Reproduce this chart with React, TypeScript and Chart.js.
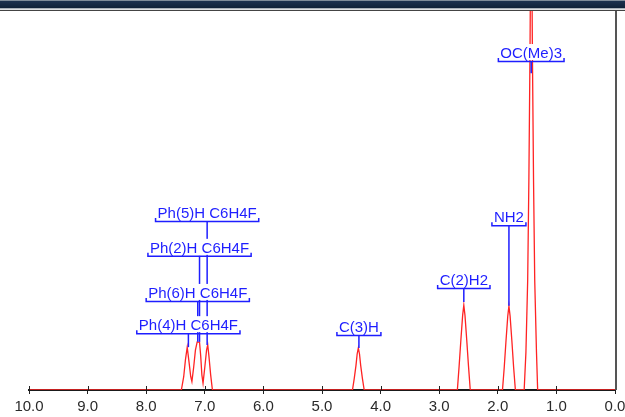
import React, { useEffect, useRef } from "react";
import { Chart, registerables } from "chart.js";

Chart.register(...registerables);

// Spectrum samples: chemical shift (ppm) and intensity (arbitrary units, axis 0..100)
const shiftPpm = [
  10.0,
  7.4, 7.36, 7.33, 7.3, 7.27, 7.24, 7.22, 7.19, 7.16, 7.13, 7.09, 7.07, 7.05, 7.03, 7.0, 6.97, 6.95, 6.93, 6.9, 6.87,
  4.48, 4.45, 4.42, 4.4, 4.38, 4.36, 4.34, 4.31, 4.28,
  2.69, 2.66, 2.63, 2.6, 2.58, 2.56, 2.53, 2.5, 2.47,
  1.92, 1.89, 1.86, 1.83, 1.81, 1.79, 1.76, 1.73, 1.7,
  1.55, 1.52, 1.49, 1.47, 1.45, 1.43, 1.41, 1.39, 1.37, 1.34, 1.32,
  0.0,
];
const intensity = [
  0,
  0, 3.5, 8, 11.3, 7.5, 3.5, 2.2, 6, 10.5, 12.7, 12.6, 9, 4, 1.8, 6, 10.5, 11.9, 9, 4, 0,
  0, 3, 6.5, 9.5, 11.1, 9.5, 6.5, 3, 0,
  0, 6.3, 13.2, 19.7, 22.4, 19.7, 13.2, 6.3, 0,
  0, 6, 13, 19.5, 22.2, 19.5, 13, 6, 0,
  0, 10, 29, 55, 90, 140, 90, 55, 29, 10, 0,
  0,
];

// Axis ticks
const tickValues = [10, 9, 8, 7, 6, 5, 4, 3, 2, 1, 0];

// Peak assignment labels
const labelTexts = [
  "OC(Me)3",
  "NH2",
  "C(2)H2",
  "C(3)H",
  "Ph(5)H C6H4F",
  "Ph(2)H C6H4F",
  "Ph(6)H C6H4F",
  "Ph(4)H C6H4F",
];
const labelPpm = [1.43, 1.81, 2.58, 4.37, 6.96, 7.09, 7.12, 7.28];
const bracketLevel = [86.8, 43.5, 26.9, 14.5, 44.6, 35.4, 23.5, 15.0];
const connectorEnd = [83.6, 22.2, 23.2, 11.1, 11.9, 12.7, 12.7, 11.3];

const BLUE = "#1e1eff";
const RED = "rgb(255,35,35)";
const LABEL_FONT = "15px 'Liberation Sans', Arial, sans-serif";

const decorPlugin = {
  id: "decor",
  afterDraw(chart: any) {
    const { ctx, chartArea, scales } = chart;
    const xs = scales.x;
    const ys = scales.y;
    ctx.save();

    // upper halves of the axis ticks
    ctx.strokeStyle = "#222";
    ctx.lineWidth = 1;
    for (const v of tickValues) {
      const px = Math.round(xs.getPixelForValue(v)) + 0.5;
      ctx.beginPath();
      ctx.moveTo(px, chartArea.bottom - 4);
      ctx.lineTo(px, chartArea.bottom);
      ctx.stroke();
    }

    // right frame line
    ctx.strokeStyle = "#555";
    ctx.lineWidth = 2;
    ctx.beginPath();
    ctx.moveTo(chartArea.right + 1, chartArea.top);
    ctx.lineTo(chartArea.right + 1, chartArea.bottom);
    ctx.stroke();

    // top title bar
    const w = chart.width;
    ctx.fillStyle = "#7f8c99";
    ctx.fillRect(0, 0, w, 1);
    const g = ctx.createLinearGradient(0, 1, 0, 8);
    g.addColorStop(0, "#1c3250");
    g.addColorStop(1, "#102238");
    ctx.fillStyle = g;
    ctx.fillRect(0, 1, w, 7);
    ctx.fillStyle = "#a9b1b9";
    ctx.fillRect(0, 8, w, 1.5);
    ctx.fillStyle = "#e6e6e6";
    ctx.fillRect(0, 9.5, w, 0.5);
    ctx.fillStyle = "#444";
    ctx.fillRect(0, 10, w, 1);

    // connectors
    ctx.font = LABEL_FONT;
    ctx.strokeStyle = BLUE;
    ctx.lineWidth = 1.5;
    labelTexts.forEach((_, i) => {
      const px = xs.getPixelForValue(labelPpm[i]);
      const yb = ys.getPixelForValue(bracketLevel[i]);
      const ye = ys.getPixelForValue(connectorEnd[i]);
      ctx.beginPath();
      ctx.moveTo(px, yb);
      ctx.lineTo(px, ye);
      ctx.stroke();
    });

    // label boxes, text and brackets
    labelTexts.forEach((t, i) => {
      const px = xs.getPixelForValue(labelPpm[i]);
      const yb = ys.getPixelForValue(bracketLevel[i]);
      const tw = ctx.measureText(t).width;
      const base = yb - 3;
      ctx.fillStyle = "#fff";
      ctx.fillRect(px - tw / 2 - 1, base - 14, tw + 2, 16);
      ctx.fillStyle = BLUE;
      ctx.textAlign = "center";
      ctx.textBaseline = "alphabetic";
      ctx.fillText(t, px, base);
      const l = px - tw / 2 - 2;
      const r = px + tw / 2 + 2;
      ctx.beginPath();
      ctx.moveTo(l, yb - 3);
      ctx.lineTo(l, yb + 0.5);
      ctx.lineTo(r, yb + 0.5);
      ctx.lineTo(r, yb - 3);
      ctx.stroke();
    });

    ctx.restore();
  },
};

export default function App() {
  const canvasRef = useRef<HTMLCanvasElement | null>(null);

  useEffect(() => {
    document.body.style.margin = "0";
    const canvas = canvasRef.current;
    if (!canvas) return;
    const points = shiftPpm.map((x, i) => ({ x, y: intensity[i] }));
    const chart = new Chart(canvas, {
      type: "line",
      data: {
        datasets: [
          {
            data: points,
            borderColor: RED,
            borderWidth: 1.3,
            pointRadius: 0,
            tension: 0,
            fill: false,
          },
        ],
      },
      options: {
        responsive: false,
        devicePixelRatio: 1,
        animation: false,
        events: [],
        layout: { padding: { left: 29, right: 10, top: 11, bottom: 0 } },
        plugins: { legend: { display: false }, tooltip: { enabled: false } },
        scales: {
          x: {
            type: "linear",
            reverse: true,
            min: 0,
            max: 10,
            z: 1,
            afterBuildTicks: (scale: any) => {
              scale.ticks = tickValues.map((v) => ({ value: v }));
            },
            afterFit: (scale: any) => {
              scale.height = 27;
              scale.paddingLeft = 0;
              scale.paddingRight = 0;
            },
            ticks: {
              autoSkip: false,
              maxRotation: 0,
              padding: 4,
              color: "#2a2a2a",
              font: { family: "'Liberation Sans', Arial, sans-serif", size: 15 },
              callback: (v: any) => Number(v).toFixed(1),
            },
            grid: {
              drawOnChartArea: false,
              drawTicks: true,
              tickLength: 4,
              color: "#222",
              lineWidth: 1,
            },
            border: { display: true, color: "#1a1a1a", width: 2 },
          },
          y: {
            display: false,
            min: 0,
            max: 100,
          },
        },
      },
      plugins: [decorPlugin],
    });
    return () => chart.destroy();
  }, []);

  return (
    <div style={{ width: 625, height: 417, background: "#fff", position: "relative" }}>
      <canvas ref={canvasRef} width={625} height={417} style={{ display: "block", width: 625, height: 417 }} />
    </div>
  );
}
